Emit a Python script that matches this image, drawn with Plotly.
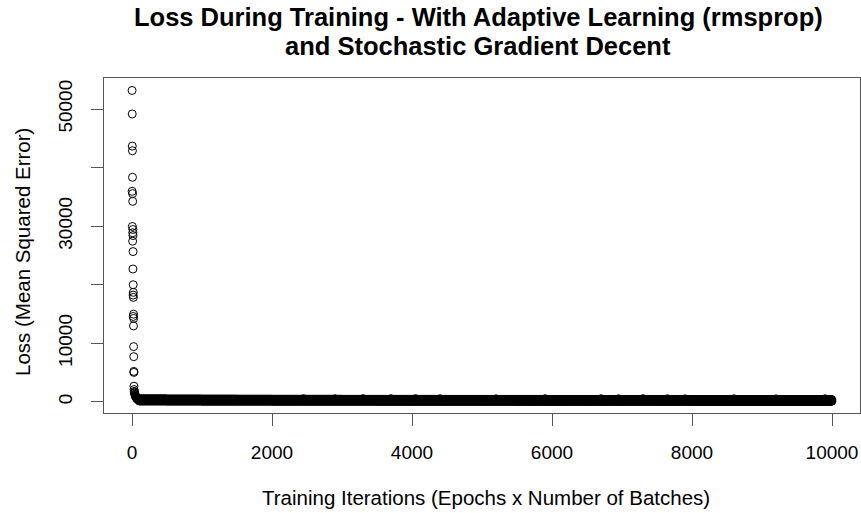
import plotly.graph_objects as go

# ---- data ----
# first iterations (1..28): very high loss
early_iter = list(range(1, 29))
early_loss = [53170, 35950, 49160, 43670, 29950, 42880, 38350, 35560, 27440, 34240,
              28870, 29430, 22690, 28400, 25660, 18230, 20000, 14580, 18700, 17840,
              12970, 14970, 9430, 14240, 7720, 5200, 5030, 2680]

# warm-up region (iterations 29..98, every 3rd iteration read)
warm_iter = list(range(29, 101, 3))
warm_loss = [2100, 1800, 1500, 1650, 1300, 1200, 1000, 1100, 900, 850, 800, 700,
             750, 650, 600, 550, 500, 520, 450, 480, 420, 400, 380, 350]

# long plateau: band levels read per 500-iteration block (lower / upper edge)
block_start = [100, 500, 1000, 1500, 2000, 2500, 3000, 3500, 4000, 4500,
               5000, 5500, 6000, 6500, 7000, 7500, 8000, 8500, 9000, 9500]
block_low = [180, 170, 160, 160, 150, 150, 150, 140, 140, 140,
             140, 130, 130, 130, 130, 130, 120, 120, 120, 120]
block_high = [480, 460, 450, 440, 430, 430, 420, 420, 420, 410,
              410, 410, 400, 400, 400, 400, 390, 390, 390, 390]

# occasional small bumps above the band
spike_iter = [2450, 2900, 3300, 3700, 4050, 4400, 5200, 5900, 6700, 6950, 7300, 7650, 7900, 8600, 9200, 9900]
spike_loss = [540, 530, 550, 540, 550, 530, 520, 540, 540, 530, 550, 530, 520, 530, 510, 530]

last_iter = 10000

# ---- assemble the plateau points from the block readings ----
tail_iter, tail_loss = [], []
for i, start in enumerate(block_start):
    end = block_start[i + 1] if i + 1 < len(block_start) else last_iter + 1
    k = 0
    for it in range(start + 1, end, 3):
        tail_iter.append(it)
        tail_loss.append(block_low[i] if k % 2 == 0 else block_high[i])
        k += 1

x_all = early_iter + warm_iter + tail_iter + spike_iter
y_all = early_loss + warm_loss + tail_loss + spike_loss

x_ticks = [0, 2000, 4000, 6000, 8000, 10000]
y_ticks = [0, 10000, 20000, 30000, 40000, 50000]
y_ticktext = ["0", "10000", "", "30000", "", "50000"]

title_lines = ["Loss During Training - With Adaptive Learning (rmsprop)",
               "and Stochastic Gradient Decent"]
x_title = "Training Iterations (Epochs x Number of Batches)"
y_title = "Loss (Mean Squared Error)"

FONT = "Liberation Sans, Arial, sans-serif"
AX = "#555555"
W, H = 861, 513
ML, MT = 104, 78
MR = W - 860
MB = H - 413
PW, PH = W - ML - MR, H - MT - MB


def px_x(x):
    return (x - ML) / PW


def px_y(y):
    return 1 - (y - MT) / PH


fig = go.Figure()
fig.add_trace(go.Scatter(
    x=x_all, y=y_all, mode="markers",
    marker=dict(symbol="circle-open", size=8, color="black", line=dict(width=1, color="black")),
    hoverinfo="x+y", showlegend=False,
))

# title as two centred bold lines
for txt, ypix in zip(title_lines, [17, 46]):
    fig.add_annotation(
        text="<b>" + txt + "</b>", xref="paper", yref="paper",
        x=px_x(478), y=px_y(ypix), xanchor="center", yanchor="middle", showarrow=False,
        font=dict(family=FONT, size=25.5, color="black"),
    )
fig.add_annotation(
    text=x_title, xref="paper", yref="paper", x=px_x(486), y=px_y(497),
    xanchor="center", yanchor="middle", showarrow=False,
    font=dict(family=FONT, size=20.5, color="black"),
)
fig.add_annotation(
    text=y_title, xref="paper", yref="paper", x=px_x(22), y=px_y(252),
    xanchor="center", yanchor="middle", showarrow=False, textangle=-90,
    font=dict(family=FONT, size=20.5, color="black"),
)

fig.update_layout(
    width=W, height=H,
    margin=dict(l=ML, r=MR, t=MT, b=MB, autoexpand=False),
    paper_bgcolor="white", plot_bgcolor="white",
    font=dict(family=FONT, color="black", size=19),
    xaxis=dict(
        range=[-400, 10400], tickvals=x_ticks, ticktext=[str(v) for v in x_ticks],
        automargin=False,
        showgrid=False, zeroline=False, showline=True, mirror=True, linecolor=AX, linewidth=1,
        ticks="outside", ticklen=12, tickcolor=AX, tickwidth=1,
        ticklabelstandoff=10, tickfont=dict(size=19),
    ),
    yaxis=dict(
        range=[-1900, 55300], tickvals=y_ticks, ticktext=y_ticktext, tickangle=-90,
        automargin=False,
        showgrid=False, zeroline=False, showline=True, mirror=True, linecolor=AX, linewidth=1,
        ticks="outside", ticklen=12, tickcolor=AX, tickwidth=1,
        ticklabelstandoff=11, tickfont=dict(size=19),
    ),
)

fig.write_html(
    "out.html",
    config={"displayModeBar": False},
    post_script="document.body.style.margin='0';document.body.style.overflow='hidden';",
)
